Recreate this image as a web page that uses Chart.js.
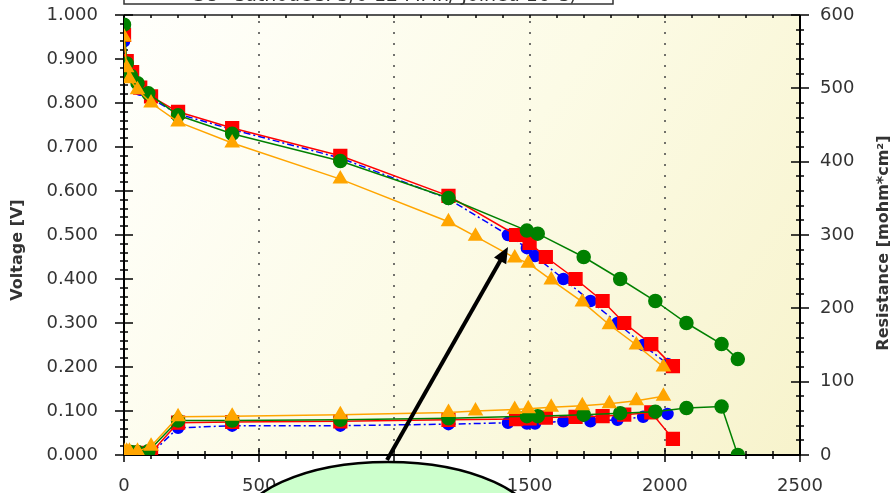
<!DOCTYPE html>
<html>
<head>
<meta charset="utf-8">
<script src="https://cdn.jsdelivr.net/npm/chart.js@4.4.0/dist/chart.umd.min.js"></script>
<style>
  body { margin: 0; background: #fff; }
</style>
</head>
<body>
<canvas id="pol" width="894" height="493"></canvas>
<script>
// current density [mA/cm2], voltage [V], resistance [mohm*cm2] for each run
const redI = [0, 10, 30, 60, 100, 200, 400, 800, 1200, 1450, 1500, 1560, 1670, 1770, 1850, 1950, 2030]
const redV = [0.955, 0.895, 0.870, 0.835, 0.815, 0.780, 0.743, 0.680, 0.589, 0.500, 0.482, 0.450, 0.400, 0.350, 0.300, 0.252, 0.202]
const redR = [3, 3, 3, 3, 3, 44, 45, 46, 48, 49, 50, 51, 52, 53, 55, 58, 22]

const blueI = [0, 10, 30, 60, 100, 200, 400, 800, 1200, 1420, 1490, 1520, 1625, 1725, 1825, 1920, 2010]
const blueV = [0.940, 0.890, 0.865, 0.830, 0.810, 0.775, 0.740, 0.675, 0.582, 0.500, 0.470, 0.452, 0.400, 0.350, 0.300, 0.250, 0.207]
const blueR = [2, 2, 2, 2, 2, 37, 40, 40, 42, 44, 43, 43, 46, 46, 48, 52, 56]

const greenI = [0, 10, 25, 50, 90, 200, 400, 800, 1200, 1490, 1530, 1700, 1835, 1965, 2080, 2210, 2270]
const greenV = [0.978, 0.890, 0.862, 0.845, 0.822, 0.772, 0.730, 0.668, 0.584, 0.510, 0.503, 0.450, 0.400, 0.350, 0.300, 0.252, 0.218]
const greenR = [4, 4, 4, 4, 5, 47, 47, 48, 50, 53, 53, 55, 57, 59, 64, 66, 0]

const orangeI = [0, 10, 20, 50, 100, 200, 400, 800, 1200, 1300, 1445, 1495, 1580, 1695, 1795, 1895, 1995]
const orangeV = [0.950, 0.880, 0.855, 0.830, 0.800, 0.757, 0.709, 0.627, 0.530, 0.497, 0.448, 0.436, 0.398, 0.348, 0.296, 0.250, 0.200]
const orangeR = [5, 5, 5, 5, 12, 52, 53, 55, 58, 60, 62, 63, 65, 67, 70, 74, 80]

const boxText = 'SU- CathodeC: 5/0 12 MMh/ Joined 16 C)'

function pts(xs, ys) {
  return xs.map((x, i) => ({x: x, y: ys[i]}))
}

const red = {borderColor: '#ff0000', backgroundColor: '#ff0000', pointStyle: 'rect', pointRadius: 9, borderWidth: 1.5, order: 3}
const blue = {borderColor: '#0000ff', backgroundColor: '#0000ff', pointStyle: 'circle', pointRadius: 5.5, borderWidth: 1.5, borderDash: [7, 3, 2, 3], order: 4}
const green = {borderColor: '#008000', backgroundColor: '#008000', pointStyle: 'circle', pointRadius: 6.5, borderWidth: 1.5, order: 2}
const orange = {borderColor: '#ffa500', backgroundColor: '#ffa500', pointStyle: 'triangle', pointRadius: 7.5, borderWidth: 1.5, order: 1}

const datasets = [
  Object.assign({label: 'red V', data: pts(redI, redV), yAxisID: 'y'}, red),
  Object.assign({label: 'blue V', data: pts(blueI, blueV), yAxisID: 'y'}, blue),
  Object.assign({label: 'green V', data: pts(greenI, greenV), yAxisID: 'y'}, green),
  Object.assign({label: 'orange V', data: pts(orangeI, orangeV), yAxisID: 'y'}, orange),
  Object.assign({label: 'red R', data: pts(redI, redR), yAxisID: 'y1'}, red),
  Object.assign({label: 'blue R', data: pts(blueI, blueR), yAxisID: 'y1'}, blue),
  Object.assign({label: 'green R', data: pts(greenI, greenR), yAxisID: 'y1'}, green),
  Object.assign({label: 'orange R', data: pts(orangeI, orangeR), yAxisID: 'y1'}, orange)
]

const tickFont = {family: 'DejaVu Sans', size: 18}

// background, dotted grid, axis lines and tick marks
const frame = {
  id: 'frame',
  beforeDraw(chart) {
    const ctx = chart.ctx
    const a = chart.chartArea
    ctx.save()
    ctx.fillStyle = '#ffffff'
    ctx.fillRect(0, 0, chart.width, chart.height)
    const g = ctx.createLinearGradient(a.left, a.top, a.right, a.bottom)
    g.addColorStop(0, '#fffffc')
    g.addColorStop(0.5, '#fcfbe6')
    g.addColorStop(1, '#f7f3cc')
    ctx.fillStyle = g
    ctx.fillRect(a.left, a.top, a.right - a.left, a.bottom - a.top)
    ctx.restore()
  },
  beforeDatasetsDraw(chart) {
    const ctx = chart.ctx
    const a = chart.chartArea
    const sx = chart.scales.x, sy = chart.scales.y, sr = chart.scales.y1
    ctx.save()
    // dotted verticals
    ctx.strokeStyle = '#444'
    ctx.lineWidth = 1.5
    ctx.setLineDash([2, 9])
    for (let v = 500; v < 2500; v += 500) {
      const px = Math.round(sx.getPixelForValue(v))
      ctx.beginPath()
      ctx.moveTo(px, a.top + 6)
      ctx.lineTo(px, a.bottom)
      ctx.stroke()
    }
    ctx.setLineDash([])
    // frame
    ctx.lineWidth = 2
    ctx.strokeStyle = '#555'
    ctx.beginPath(); ctx.moveTo(a.left, a.top); ctx.lineTo(a.right, a.top); ctx.stroke()
    ctx.strokeStyle = '#000'
    ctx.beginPath()
    ctx.moveTo(a.left, a.top); ctx.lineTo(a.left, a.bottom); ctx.lineTo(a.right, a.bottom); ctx.lineTo(a.right, a.top)
    ctx.stroke()
    ctx.lineWidth = 1.5
    // left ticks
    for (let i = 0; i <= 50; i++) {
      const py = Math.round(sy.getPixelForValue(i * 0.02))
      const h = i % 5 === 0 ? 9 : 4
      ctx.beginPath(); ctx.moveTo(a.left - h, py); ctx.lineTo(a.left + h, py); ctx.stroke()
    }
    // right ticks
    for (let i = 0; i <= 30; i++) {
      const py = Math.round(sr.getPixelForValue(i * 20))
      const h = i % 5 === 0 ? 9 : 4
      ctx.beginPath(); ctx.moveTo(a.right - h, py); ctx.lineTo(a.right + h, py); ctx.stroke()
    }
    // bottom and top ticks
    for (let i = 0; i <= 25; i++) {
      const px = Math.round(sx.getPixelForValue(i * 100))
      const h = i % 5 === 0 ? 7 : 4
      ctx.beginPath(); ctx.moveTo(px, a.bottom - h); ctx.lineTo(px, a.bottom + h); ctx.stroke()
      ctx.beginPath(); ctx.moveTo(px, a.top); ctx.lineTo(px, a.top + 3); ctx.stroke()
    }
    ctx.restore()
  },
  afterDraw(chart) {
    const ctx = chart.ctx
    ctx.save()
    // axis titles
    ctx.fillStyle = '#333'
    ctx.font = 'bold 16px "DejaVu Sans"'
    ctx.textAlign = 'center'
    ctx.textBaseline = 'middle'
    ctx.save(); ctx.translate(18, 250); ctx.rotate(-Math.PI / 2); ctx.fillText('Voltage [V]', 0, 0); ctx.restore()
    ctx.save(); ctx.translate(884, 243); ctx.rotate(-Math.PI / 2); ctx.fillText('Resistance [mohm*cm\u00b2]', 0, 0); ctx.restore()
    // clipped note box at the top
    ctx.fillStyle = '#fff'
    ctx.strokeStyle = '#333'
    ctx.lineWidth = 1.5
    ctx.fillRect(124, -20, 489, 24)
    ctx.strokeRect(124, -20, 489, 24)
    ctx.fillStyle = '#333'
    ctx.font = '19px "DejaVu Sans"'
    ctx.textAlign = 'left'
    ctx.textBaseline = 'alphabetic'
    ctx.fillText(boxText, 193, 1)
    // arrow
    const x0 = 387, y0 = 460, x1 = 508, y1 = 247
    const ang = Math.atan2(y1 - y0, x1 - x0)
    ctx.strokeStyle = '#000'
    ctx.fillStyle = '#000'
    ctx.lineWidth = 4
    ctx.beginPath()
    ctx.moveTo(x0, y0)
    ctx.lineTo(x1 - 12 * Math.cos(ang), y1 - 12 * Math.sin(ang))
    ctx.stroke()
    ctx.beginPath()
    ctx.moveTo(x1, y1)
    ctx.lineTo(x1 - 16 * Math.cos(ang) + 7 * Math.sin(ang), y1 - 16 * Math.sin(ang) - 7 * Math.cos(ang))
    ctx.lineTo(x1 - 16 * Math.cos(ang) - 7 * Math.sin(ang), y1 - 16 * Math.sin(ang) + 7 * Math.cos(ang))
    ctx.closePath()
    ctx.fill()
    // callout bubble
    ctx.beginPath()
    ctx.ellipse(388, 530, 150, 68, 0, 0, Math.PI * 2)
    ctx.fillStyle = '#ccffcc'
    ctx.fill()
    ctx.lineWidth = 2.5
    ctx.stroke()
    ctx.restore()
  }
}

function noPad(s) {
  s.paddingTop = 0
  s.paddingBottom = 0
  s.paddingLeft = 0
  s.paddingRight = 0
}

new Chart(document.getElementById('pol'), {
  type: 'line',
  data: {datasets: datasets},
  plugins: [frame],
  options: {
    responsive: false,
    animation: false,
    devicePixelRatio: 1,
    layout: {padding: {top: 15, left: 0, right: 0, bottom: 0}},
    plugins: {legend: {display: false}, tooltip: {enabled: false}},
    elements: {line: {tension: 0}, point: {borderWidth: 1}},
    scales: {
      x: {
        type: 'linear', min: 0, max: 2500, position: 'bottom',
        afterFit(s) { s.height = 38; noPad(s) },
        grid: {display: false, drawTicks: false},
        border: {display: false},
        ticks: {stepSize: 500, padding: 21, color: '#333', font: tickFont, maxRotation: 0, autoSkip: false, callback: v => String(v)}
      },
      y: {
        min: 0, max: 1, position: 'left',
        afterFit(s) { s.width = 124; noPad(s) },
        grid: {display: false, drawTicks: false},
        border: {display: false},
        ticks: {stepSize: 0.1, padding: 26, color: '#333', font: tickFont, callback: v => v.toFixed(3)}
      },
      y1: {
        min: 0, max: 600, position: 'right',
        afterFit(s) { s.width = 94; noPad(s) },
        grid: {display: false, drawTicks: false},
        border: {display: false},
        ticks: {stepSize: 100, padding: 20, color: '#333', font: tickFont, callback: v => String(v)}
      }
    }
  }
})
</script>
</body>
</html>
